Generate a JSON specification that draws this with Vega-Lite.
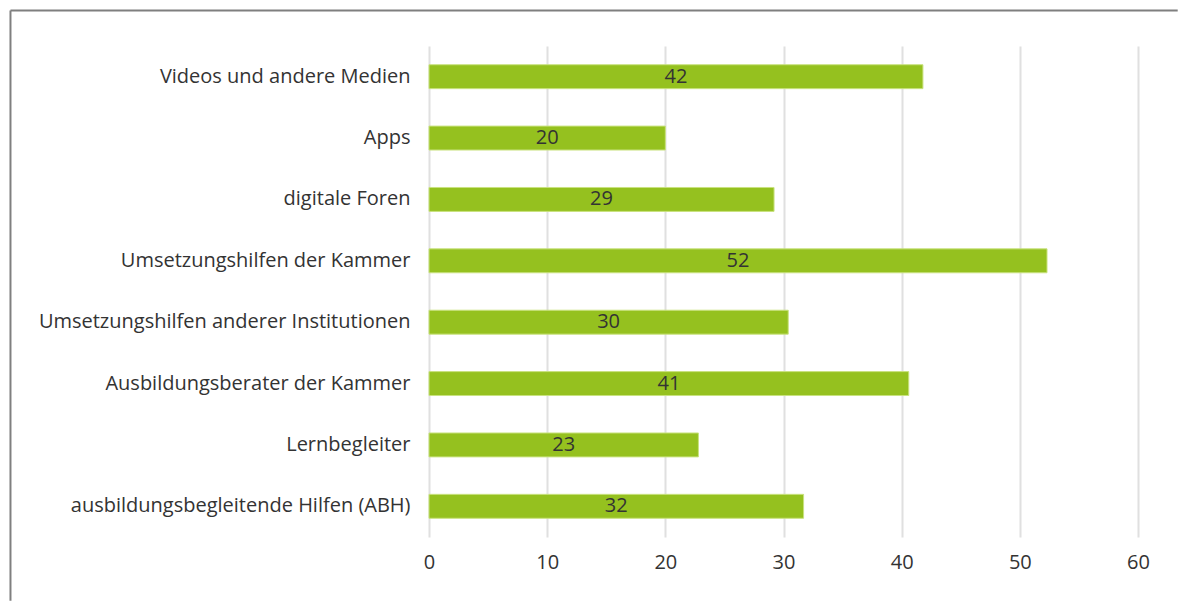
{
  "$schema": "https://vega.github.io/schema/vega-lite/v6.json",
  "autosize": "none",
  "width": 709,
  "height": 491,
  "padding": {"left": 429, "top": 46, "right": 40, "bottom": 64},
  "background": "white",
  "layer": [
    {
      "data": {
        "values": [
          {"kategorie": "Videos und andere Medien", "wert": 41.8},
          {"kategorie": "Apps", "wert": 20.0},
          {"kategorie": "digitale Foren", "wert": 29.2},
          {"kategorie": "Umsetzungshilfen der Kammer", "wert": 52.3},
          {"kategorie": "Umsetzungshilfen anderer Institutionen", "wert": 30.4},
          {"kategorie": "Ausbildungsberater der Kammer", "wert": 40.6},
          {"kategorie": "Lernbegleiter", "wert": 22.8},
          {"kategorie": "ausbildungsbegleitende Hilfen (ABH)", "wert": 31.7}
        ]
      },
      "encoding": {
        "y": {
          "field": "kategorie",
          "type": "nominal",
          "sort": null,
          "title": null,
          "scale": {"paddingInner": 0.61, "paddingOuter": 0.305},
          "axis": {
            "domain": false,
            "ticks": false,
            "labelPadding": 19,
            "labelFont": "Open Sans",
            "labelFontSize": 20,
            "labelColor": "#333333",
            "labelLimit": 420
          }
        }
      },
      "layer": [
        {
          "mark": {"type": "bar", "color": "#95c11f", "stroke": "#c9e27f", "strokeWidth": 1},
          "encoding": {
            "x": {
              "field": "wert",
              "type": "quantitative",
              "title": null,
              "scale": {"domain": [0, 60], "nice": false},
              "axis": {
                "values": [0, 10, 20, 30, 40, 50, 60],
                "domain": false,
                "ticks": false,
                "grid": true,
                "gridColor": "#e0e0e0",
                "gridWidth": 2,
                "labelFlush": false,
                "labelPadding": 15,
                "labelFont": "Open Sans",
                "labelFontSize": 20,
                "labelColor": "#333333"
              }
            }
          }
        },
        {
          "mark": {"type": "text", "font": "Open Sans", "fontSize": 20, "color": "#333333", "align": "center", "baseline": "middle"},
          "encoding": {
            "x": {"field": "wert", "type": "quantitative", "scale": {"domain": [0, 120], "nice": false}, "axis": null},
            "text": {"field": "wert", "type": "quantitative", "format": ".0f"}
          }
        }
      ],
      "resolve": {"scale": {"x": "independent"}}
    },
    {
      "data": {"values": [{"rahmen": "Rahmen"}]},
      "layer": [
        {
          "mark": {"type": "rule", "stroke": "#7f7f7f", "strokeWidth": 2, "clip": false},
          "encoding": {
            "x": {"datum": -0.5903, "type": "quantitative", "scale": {"domain": [0, 1], "nice": false, "zero": false}, "axis": null},
            "x2": {"datum": 1.056},
            "y": {"datum": 1.0723, "type": "quantitative", "scale": {"domain": [0, 1], "nice": false, "zero": false}, "axis": null}
          }
        },
        {
          "mark": {"type": "rule", "stroke": "#7f7f7f", "strokeWidth": 2, "clip": false},
          "encoding": {
            "x": {"datum": -0.5903, "type": "quantitative"},
            "y": {"datum": 1.0723, "type": "quantitative"},
            "y2": {"datum": -0.13}
          }
        }
      ]
    }
  ],
  "resolve": {"scale": {"x": "independent", "y": "independent"}},
  "config": {"view": {"stroke": null}}
}
